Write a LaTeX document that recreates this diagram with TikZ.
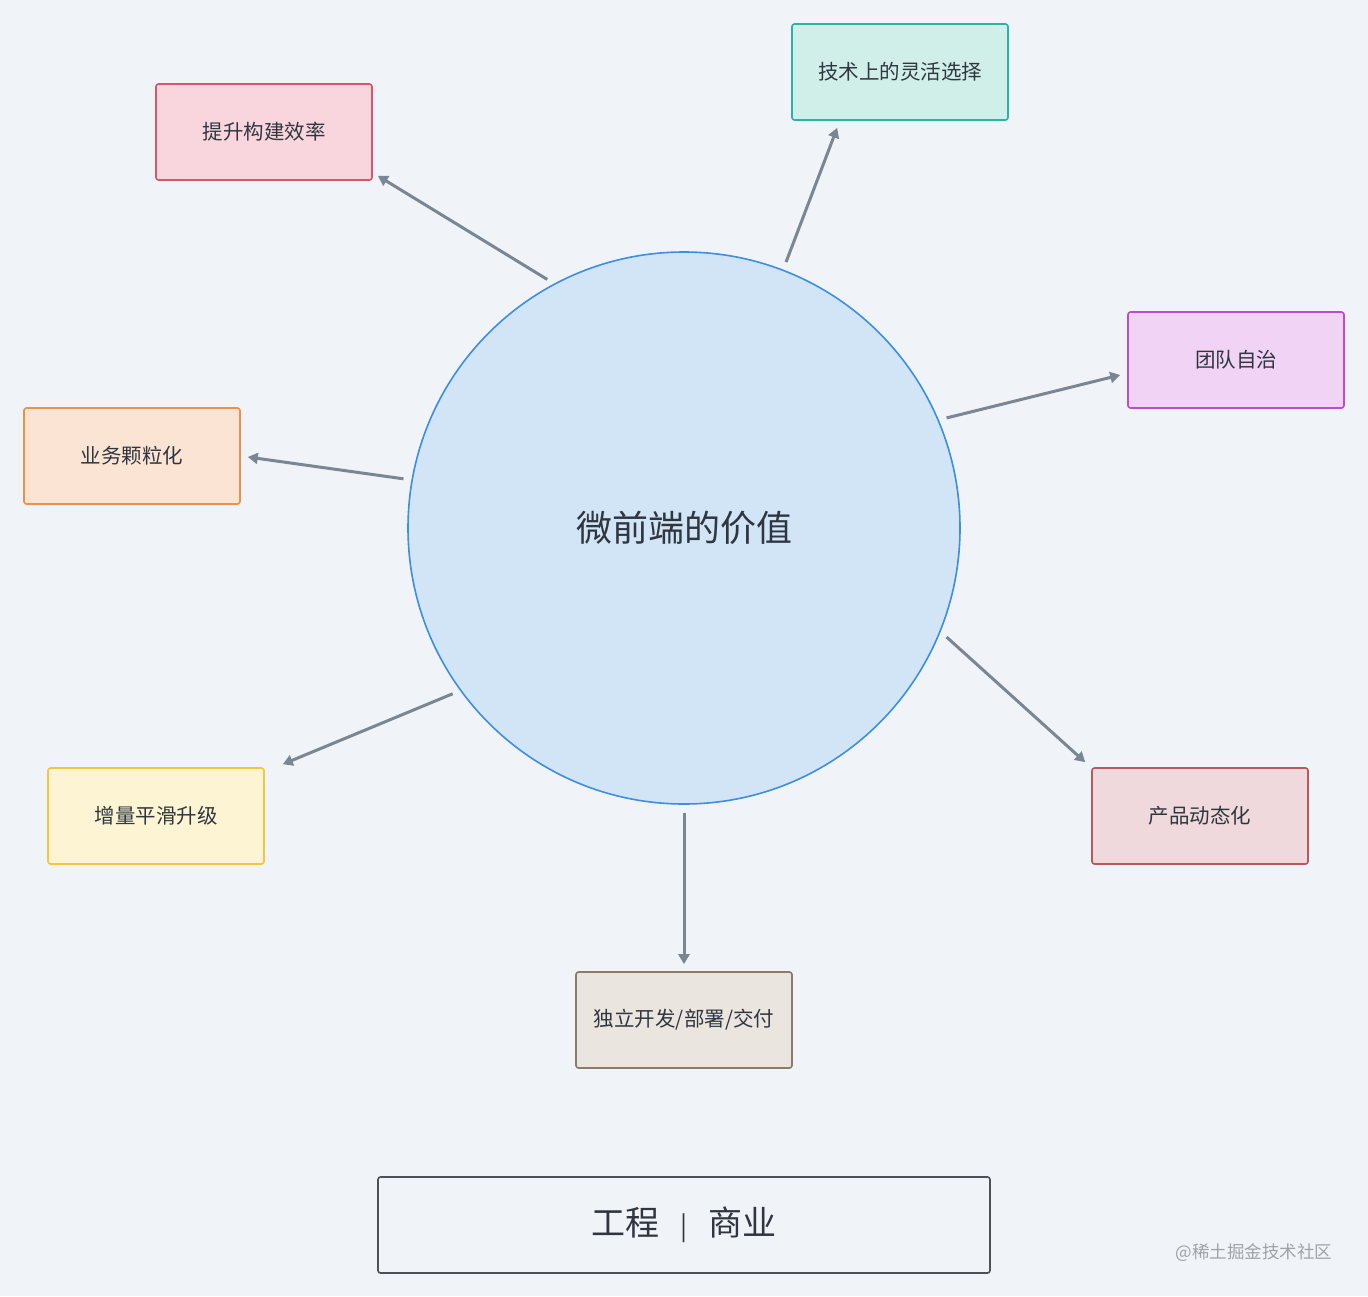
\documentclass[tikz,border=0pt]{standalone}
\usepackage{fontspec}
\setmainfont{Noto Sans CJK SC}
\usetikzlibrary{arrows.meta,calc}
\definecolor{bg}{HTML}{F0F4F8}
\definecolor{txt}{HTML}{2F3640}
\definecolor{arrowc}{HTML}{7B8693}
\definecolor{circfill}{HTML}{D2E5F6}
\definecolor{circdraw}{HTML}{3D8EE0}
\definecolor{fA}{HTML}{F9D6DE}\definecolor{dA}{HTML}{D6566B}
\definecolor{fB}{HTML}{D1EFE9}\definecolor{dB}{HTML}{2AB3A2}
\definecolor{fC}{HTML}{F0D3F5}\definecolor{dC}{HTML}{BB4FCB}
\definecolor{fD}{HTML}{FBE4D3}\definecolor{dD}{HTML}{E8924A}
\definecolor{fE}{HTML}{FDF4D3}\definecolor{dE}{HTML}{F4C63D}
\definecolor{fF}{HTML}{EFD9DC}\definecolor{dF}{HTML}{B8595F}
\definecolor{fG}{HTML}{EAE6DF}\definecolor{dG}{HTML}{8C7B67}
\definecolor{dH}{HTML}{4B5159}
\definecolor{markc}{HTML}{9EA3A8}
\tikzset{
  valbox/.style={draw, rounded corners=2.5pt, line width=1.6pt, minimum width=216pt,
    minimum height=96pt, inner sep=0pt, text=txt, font=\fontsize{20.5}{24}\selectfont},
  arr/.style={draw=arrowc, line width=3pt, -{Triangle[length=10pt,width=11pt]}, shorten <=8pt}
}
\begin{document}
\begin{tikzpicture}[x=1pt,y=1pt]
\fill[bg] (0,0) rectangle (1368,-1296);
\useasboundingbox (0,0) rectangle (1368,-1296);

% central circle
\node[circle, draw=circdraw, fill=circfill, line width=1.6pt, minimum size=552pt, inner sep=0pt,
      text=txt, font=\fontsize{36}{40}\selectfont] (c) at (684,-528) {微前端的价值};

% value boxes
\node[valbox, fill=fA, draw=dA] (b1) at (264,-132) {提升构建效率};
\node[valbox, fill=fB, draw=dB] (b2) at (900,-72) {技术上的灵活选择};
\node[valbox, fill=fC, draw=dC] (b3) at (1236,-360) {团队自治};
\node[valbox, fill=fD, draw=dD] (b4) at (132,-456) {业务颗粒化};
\node[valbox, fill=fE, draw=dE] (b5) at (156,-816) {增量平滑升级};
\node[valbox, fill=fF, draw=dF] (b6) at (1200,-816) {产品动态化};
\node[valbox, fill=fG, draw=dG] (b7) at (684,-1020) {独立开发/部署/交付};

% bottom box
\node[draw=dH, fill=bg, rounded corners=2.5pt, line width=1.6pt, minimum width=612pt,
      minimum height=96pt, inner sep=0pt, text=txt, font=\fontsize{34}{40}\selectfont]
      (bottom) at (684,-1225) {工程\hspace{0.62em}{\fontsize{26}{30}\selectfont|}\hspace{0.62em}商业};

% arrow tips
\coordinate (t1) at ($(b1.south east)+(5,5)$);
\coordinate (t2) at ($(b2.south west)+(46,-7)$);
\coordinate (t3) at ($(b3.west)+(-7,-15)$);
\coordinate (t4) at ($(b4.east)+(7,-1)$);
\coordinate (t5) at ($(b5.north east)+(18,3)$);
\coordinate (t6) at ($(b6.north west)+(-6,5)$);
\coordinate (t7) at ($(b7.north)+(0,7)$);

\draw[arr] (c.118.2) -- (t1);
\draw[arr] (c.69.1) -- (t2);
\draw[arr] (c.23.2) -- (t3);
\draw[arr] (c.170.7) -- (t4);
\draw[arr] (c.216.1) -- (t5);
\draw[arr] (c.-22.7) -- (t6);
\draw[arr] (c.-90) -- (t7);

% credit
\node[text=markc, font=\fontsize{17.5}{20}\selectfont, anchor=east] (credit) at (1336,-1253) {@稀土掘金技术社区};
\end{tikzpicture}
\end{document}
